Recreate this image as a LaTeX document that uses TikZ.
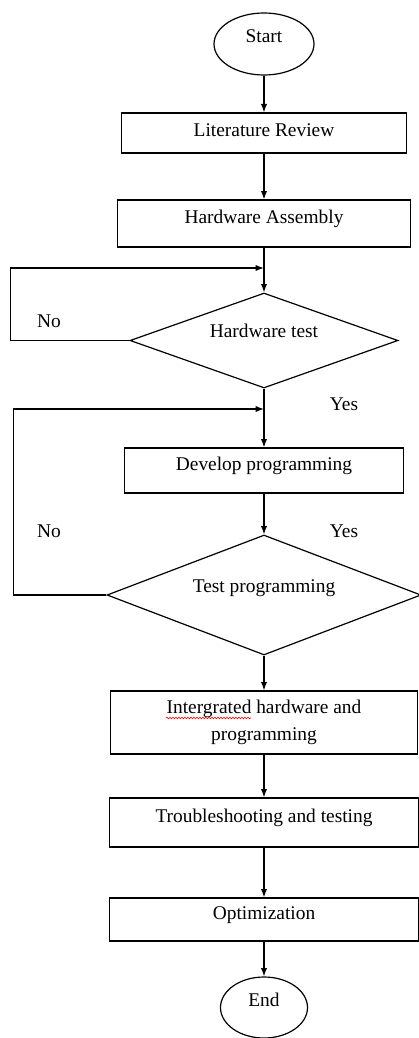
\documentclass[tikz,border=0pt]{standalone}
\usepackage{fontspec}
\setmainfont{Liberation Serif}
\usetikzlibrary{arrows.meta, shapes.geometric, decorations.pathmorphing}
\begin{document}
\begin{tikzpicture}[x=1pt, y=1pt, line width=1.2pt, font=\fontsize{19.4}{23}\selectfont,
    term/.style = {draw, ellipse, inner sep=0pt, text height=13pt, text depth=15pt},
    proc/.style = {draw, rectangle, inner sep=0pt, text height=13pt, text depth=14pt},
    proctwo/.style = {draw, rectangle, inner sep=0pt, align=center, font=\fontsize{19.4}{27}\selectfont},
    dec/.style = {draw, diamond, inner sep=0pt, aspect=2.8, text height=13pt, text depth=19pt},
    lbl/.style = {inner sep=0pt}]
            \useasboundingbox (0,0) rectangle (419,-1038);
            \node[term, minimum width=100pt, minimum height=62pt] (start) at (264,-44) {Start};
            \node[proc, node distance=89pt, minimum width=285pt, minimum height=40pt, text depth=6pt] (lit) [below of=start] {Literature Review};
            \node[proc, node distance=90.5pt, minimum width=293pt, minimum height=47pt] (hwasm) [below of=lit] {Hardware Assembly};
            \node[dec, node distance=117pt, minimum width=268pt, minimum height=95pt] (hwtest) [below of=hwasm] {Hardware test};
            \node[proc, node distance=130pt, minimum width=279pt, minimum height=45pt] (devprog) [below of=hwtest] {Develop programming};
            \node[dec, node distance=124.5pt, minimum width=314pt, minimum height=120pt] (testprog) [below of=devprog] {Test programming};
            \node[proctwo, node distance=127.5pt, minimum width=307pt, minimum height=63pt] (integ) [below of=testprog] {Intergrated hardware and\\programming};
            \node[proc, node distance=100pt, minimum width=309pt, minimum height=49pt] (trouble) [below of=integ] {Troubleshooting and testing};
            \node[proc, node distance=97pt, minimum width=309pt, minimum height=43pt] (optim) [below of=trouble] {Optimization};
            \node[term, node distance=88pt, minimum width=87pt, minimum height=61pt] (end) [below of=optim] {End};

            \node[lbl] (no1) at (49,-321) {No};
            \node[lbl] (yes1) at (344,-404) {Yes};
            \node[lbl] (no2) at (49,-531) {No};
            \node[lbl] (yes2) at (344,-531) {Yes};

            \coordinate (j1) at (264,-268);
            \coordinate (j2) at (264,-409);

            \path[-Latex] (start) edge (lit);
            \path[-Latex] (lit) edge (hwasm);
            \path[-Latex] (hwasm) edge (hwtest);
            \path[-Latex] (hwtest) edge (devprog);
            \path[-Latex] (devprog) edge (testprog);
            \path[-Latex] (testprog) edge (integ);
            \path[-Latex] (integ) edge (trouble);
            \path[-Latex] (trouble) edge (optim);
            \path[-Latex] (optim) edge (end);
            \draw[-Latex] (hwtest.west) -- ++(-119,0) |- (j1);
            \draw[-Latex] (testprog.west) -- ++(-93,0) |- (j2);
            \draw[red, line width=0.6pt, decorate, decoration={snake, amplitude=0.8pt, segment length=3pt}] (166,-718) -- (251,-718);
        \end{tikzpicture}
\end{document}
